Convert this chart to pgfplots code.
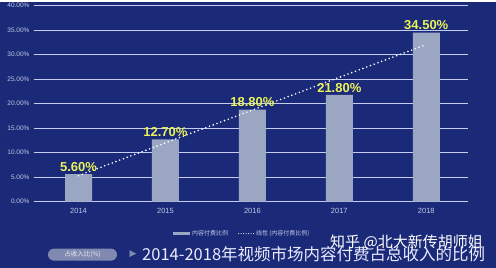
\documentclass[border=0pt]{standalone}
\usepackage{pgfplots}
\pgfplotsset{compat=1.18}
\usepackage{fontspec}
\setmainfont{Liberation Sans}
\newfontfamily\cjk{Noto Sans CJK SC}
\newfontfamily\dejavu{DejaVu Sans}
\definecolor{bg}{HTML}{1B2A78}
\definecolor{barc}{HTML}{9AA6C2}
\definecolor{gridc}{HTML}{C5CDEE}
\definecolor{lab}{HTML}{E9F25A}
\definecolor{tickc}{HTML}{C0C8E8}
\definecolor{pill}{HTML}{8089B0}
\begin{document}
\begin{tikzpicture}
\fill[bg] (0pt,0pt) rectangle (496pt,266pt);
\begin{axis}[
  at={(34pt,66pt)}, anchor=south west,
  scale only axis, width=434pt, height=196pt,
  xmin=-0.512, xmax=4.48, ymin=0, ymax=40,
  /pgf/number format/assume math mode=true,
  axis line style={draw=none},
  major tick length=0pt,
  ytick={0,5,...,40},
  yticklabels={0.00\%,5.00\%,10.00\%,15.00\%,20.00\%,25.00\%,30.00\%,35.00\%,40.00\%},
  xtick={0,1,2,3,4},
  xticklabels={2014,2015,2016,2017,2018},
  yticklabel style={font=\fontsize{6.5}{7}\selectfont, text=tickc, xshift=-1pt},
  xticklabel style={font=\fontsize{7.5}{8}\selectfont, text=tickc, yshift=-3pt},
  ymajorgrids, grid style={gridc, line width=0.9pt},
  clip=false,
  legend columns=2,
  legend style={at={(0.48,-0.163)}, anchor=center, draw=none, fill=none,
    font=\cjk\fontsize{6}{7}\selectfont, text=tickc,
    /tikz/every even column/.append style={column sep=8pt}},
]
\addplot[ybar, bar width=27pt, bar shift=0pt, fill=barc, draw=none,
  nodes near coords={\pgfmathprintnumber[fixed,fixed zerofill,precision=2,assume math mode=true]{\pgfplotspointmeta}\%},
  every node near coord/.append style={font=\bfseries\fontsize{13}{14}\selectfont, text=lab, yshift=-1pt},
  legend image code/.code={\fill[barc] (0pt,-1.5pt) rectangle (17pt,1.5pt);}]
  coordinates {(0,5.6) (1,12.7) (2,18.8) (3,21.8) (4,34.5)};
\addlegendentry{内容付费比例}
\addplot[white, line width=1.8pt, line cap=round, dash pattern=on 0pt off 4pt,
  legend image code/.code={\draw[white, line width=1pt, line cap=round, dash pattern=on 0pt off 2.5pt] (0pt,0pt) -- (15pt,0pt);}]
  coordinates {(0,5.30) (4,32.06)};
\addlegendentry{线性 (内容付费比例)}
\end{axis}
\node[fill=pill, rounded corners=6pt, minimum width=69pt, minimum height=12pt, inner sep=0pt,
  text=white!85!pill, font=\cjk\fontsize{6.5}{7}\selectfont] at (82.5pt,13pt) {占收入比(\%)};
\node[text=pill, font=\dejavu\fontsize{9}{10}\selectfont] at (133pt,13pt) {▶};
\node[anchor=west, inner sep=0pt, text=white!92!blue, font=\cjk\fontsize{16.5}{18}\selectfont] at (142pt,13pt) {2014-2018年视频市场内容付费占总收入的比例};
\node[anchor=west, inner sep=0pt, text=white, font=\cjk\fontsize{15}{16}\selectfont] at (330pt,25pt) {知乎 @北大新传胡师姐};
\end{tikzpicture}
\end{document}
